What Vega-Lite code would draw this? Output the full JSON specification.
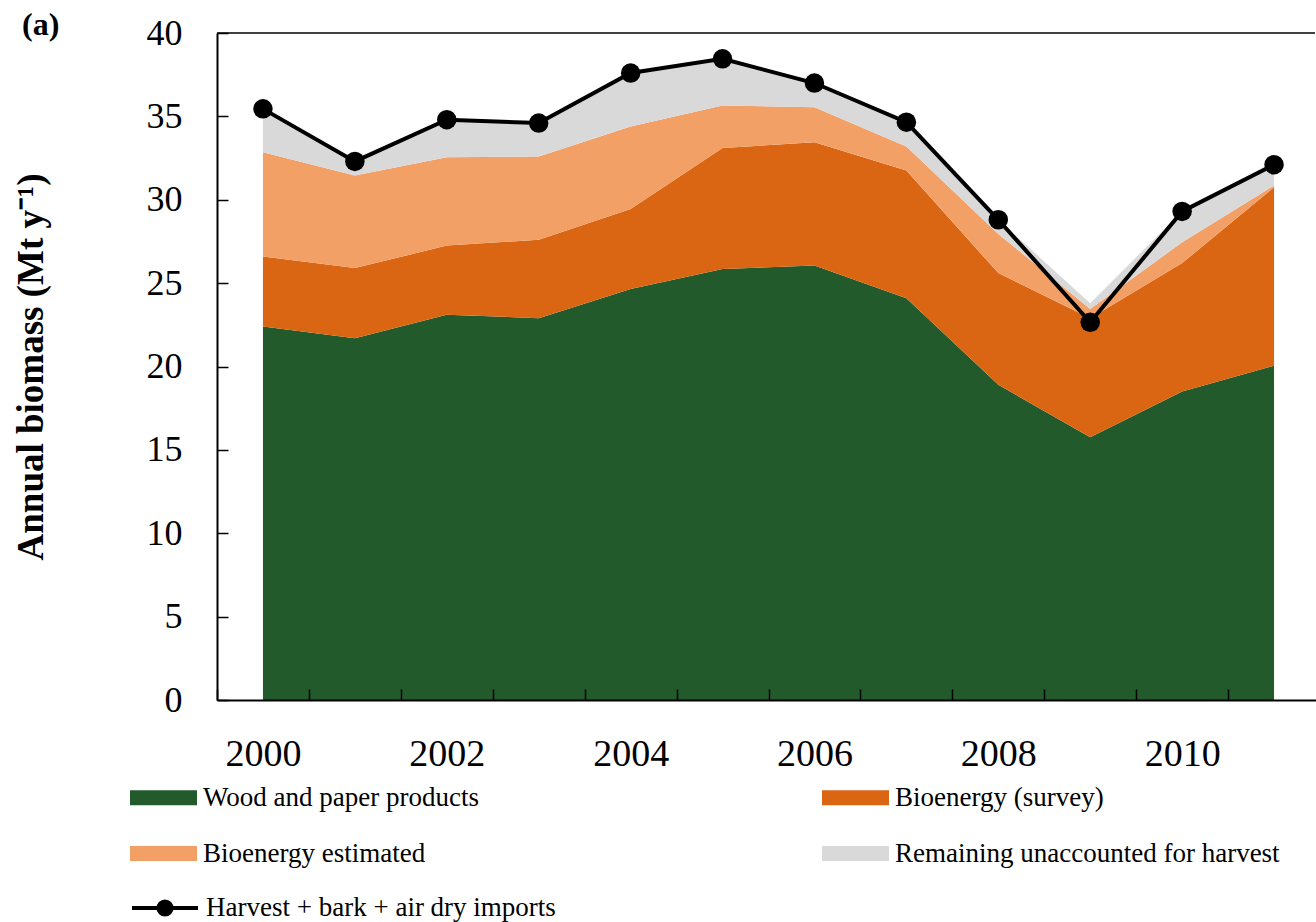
{
  "$schema": "https://vega.github.io/schema/vega-lite/v6.json",
  "autosize": {"type": "none"},
  "padding": {"left": 217, "top": 33, "right": 1, "bottom": 222},
  "width": 1098,
  "height": 667,
  "title": {
    "text": "(a)",
    "anchor": "start",
    "frame": "group",
    "dx": -195,
    "dy": 31,
    "font": "Liberation Serif",
    "fontSize": 32,
    "fontWeight": "bold",
    "color": "black"
  },
  "config": {
    "view": {"stroke": null},
    "axis": {
      "grid": false,
      "domainColor": "black",
      "domainWidth": 2,
      "tickColor": "black",
      "tickWidth": 1.5,
      "labelFont": "Liberation Serif",
      "labelColor": "black",
      "titleFont": "Liberation Serif",
      "titleColor": "black"
    },
    "legend": {
      "labelFont": "Liberation Serif",
      "labelFontSize": 27,
      "labelColor": "black",
      "labelLimit": 600
    }
  },
  "datasets": {
    "parts": [
      {"year": 2000, "category": "Wood and paper products", "rank": 1, "value": 22.4},
      {"year": 2001, "category": "Wood and paper products", "rank": 1, "value": 21.7},
      {"year": 2002, "category": "Wood and paper products", "rank": 1, "value": 23.1},
      {"year": 2003, "category": "Wood and paper products", "rank": 1, "value": 22.9},
      {"year": 2004, "category": "Wood and paper products", "rank": 1, "value": 24.65},
      {"year": 2005, "category": "Wood and paper products", "rank": 1, "value": 25.85},
      {"year": 2006, "category": "Wood and paper products", "rank": 1, "value": 26.05},
      {"year": 2007, "category": "Wood and paper products", "rank": 1, "value": 24.1},
      {"year": 2008, "category": "Wood and paper products", "rank": 1, "value": 18.9},
      {"year": 2009, "category": "Wood and paper products", "rank": 1, "value": 15.75},
      {"year": 2010, "category": "Wood and paper products", "rank": 1, "value": 18.5},
      {"year": 2011, "category": "Wood and paper products", "rank": 1, "value": 20.05},
      {"year": 2000, "category": "Bioenergy (survey)", "rank": 2, "value": 4.2},
      {"year": 2001, "category": "Bioenergy (survey)", "rank": 2, "value": 4.2},
      {"year": 2002, "category": "Bioenergy (survey)", "rank": 2, "value": 4.15},
      {"year": 2003, "category": "Bioenergy (survey)", "rank": 2, "value": 4.7},
      {"year": 2004, "category": "Bioenergy (survey)", "rank": 2, "value": 4.8},
      {"year": 2005, "category": "Bioenergy (survey)", "rank": 2, "value": 7.25},
      {"year": 2006, "category": "Bioenergy (survey)", "rank": 2, "value": 7.4},
      {"year": 2007, "category": "Bioenergy (survey)", "rank": 2, "value": 7.65},
      {"year": 2008, "category": "Bioenergy (survey)", "rank": 2, "value": 6.7},
      {"year": 2009, "category": "Bioenergy (survey)", "rank": 2, "value": 7.15},
      {"year": 2010, "category": "Bioenergy (survey)", "rank": 2, "value": 7.7},
      {"year": 2011, "category": "Bioenergy (survey)", "rank": 2, "value": 10.7},
      {"year": 2000, "category": "Bioenergy estimated", "rank": 3, "value": 6.25},
      {"year": 2001, "category": "Bioenergy estimated", "rank": 3, "value": 5.55},
      {"year": 2002, "category": "Bioenergy estimated", "rank": 3, "value": 5.3},
      {"year": 2003, "category": "Bioenergy estimated", "rank": 3, "value": 5.0},
      {"year": 2004, "category": "Bioenergy estimated", "rank": 3, "value": 4.95},
      {"year": 2005, "category": "Bioenergy estimated", "rank": 3, "value": 2.55},
      {"year": 2006, "category": "Bioenergy estimated", "rank": 3, "value": 2.1},
      {"year": 2007, "category": "Bioenergy estimated", "rank": 3, "value": 1.45},
      {"year": 2008, "category": "Bioenergy estimated", "rank": 3, "value": 2.35},
      {"year": 2009, "category": "Bioenergy estimated", "rank": 3, "value": 0.55},
      {"year": 2010, "category": "Bioenergy estimated", "rank": 3, "value": 1.25},
      {"year": 2011, "category": "Bioenergy estimated", "rank": 3, "value": 0.1},
      {"year": 2000, "category": "Remaining unaccounted for harvest", "rank": 4, "value": 2.6},
      {"year": 2001, "category": "Remaining unaccounted for harvest", "rank": 4, "value": 0.85},
      {"year": 2002, "category": "Remaining unaccounted for harvest", "rank": 4, "value": 2.25},
      {"year": 2003, "category": "Remaining unaccounted for harvest", "rank": 4, "value": 2.0},
      {"year": 2004, "category": "Remaining unaccounted for harvest", "rank": 4, "value": 3.2},
      {"year": 2005, "category": "Remaining unaccounted for harvest", "rank": 4, "value": 2.8},
      {"year": 2006, "category": "Remaining unaccounted for harvest", "rank": 4, "value": 1.45},
      {"year": 2007, "category": "Remaining unaccounted for harvest", "rank": 4, "value": 1.45},
      {"year": 2008, "category": "Remaining unaccounted for harvest", "rank": 4, "value": 0.85},
      {"year": 2009, "category": "Remaining unaccounted for harvest", "rank": 4, "value": 0.35},
      {"year": 2010, "category": "Remaining unaccounted for harvest", "rank": 4, "value": 1.85},
      {"year": 2011, "category": "Remaining unaccounted for harvest", "rank": 4, "value": 1.25}
    ],
    "totals": [
      {"year": 2000, "total": 35.45},
      {"year": 2001, "total": 32.3},
      {"year": 2002, "total": 34.8},
      {"year": 2003, "total": 34.6},
      {"year": 2004, "total": 37.6},
      {"year": 2005, "total": 38.45},
      {"year": 2006, "total": 37.0},
      {"year": 2007, "total": 34.65},
      {"year": 2008, "total": 28.8},
      {"year": 2009, "total": 22.65},
      {"year": 2010, "total": 29.3},
      {"year": 2011, "total": 32.1}
    ]
  },
  "encoding": {
    "x": {
      "field": "year",
      "type": "ordinal",
      "bandPosition": 0.5,
      "scale": {"type": "band", "paddingInner": 0, "paddingOuter": 0, "range": [0, 1103]},
      "axis": {
        "title": null,
        "zindex": 1,
        "tickBand": "extent",
        "tickSize": -11,
        "labelPadding": 46,
        "labelAngle": 0,
        "labelFontSize": 38,
        "labelExpr": "toNumber(datum.value) % 2 == 0 ? datum.label : ''"
      }
    }
  },
  "layer": [
    {
      "data": {"name": "parts"},
      "mark": {"type": "area", "line": false},
      "encoding": {
        "y": {
          "field": "value",
          "type": "quantitative",
          "stack": "zero",
          "scale": {"domain": [0, 40], "nice": false},
          "axis": {
            "title": "Annual biomass (Mt y⁻¹)",
            "titleFontSize": 37,
            "titleFontWeight": "bold",
            "titlePadding": 96,
            "zindex": 1,
            "values": [0, 5, 10, 15, 20, 25, 30, 35, 40],
            "tickSize": -11,
            "labelPadding": 46,
            "labelFontSize": 36
          }
        },
        "order": {"field": "rank", "type": "quantitative"},
        "fill": {
          "field": "category",
          "type": "nominal",
          "scale": {
            "domain": ["Wood and paper products", "Bioenergy estimated", "Bioenergy (survey)", "Remaining unaccounted for harvest"],
            "range": ["#225A2B", "#F2A066", "#DA6513", "#D9D9D9"]
          },
          "legend": {
            "title": null,
            "orient": "none",
            "legendX": -87,
            "legendY": 731,
            "columns": 2,
            "columnPadding": 343,
            "rowPadding": 9,
            "symbolType": "M-1,-0.224H1V0.224H-1Z",
            "symbolSize": 4489,
            "symbolStrokeWidth": 0,
            "symbolOpacity": 1,
            "labelOffset": 6
          }
        }
      }
    },
    {
      "data": {"name": "totals"},
      "mark": {"type": "line", "strokeWidth": 4},
      "encoding": {
        "y": {"field": "total", "type": "quantitative"},
        "stroke": {
          "datum": "Harvest + bark + air dry imports",
          "type": "nominal",
          "scale": {"range": ["black"]},
          "legend": {
            "title": null,
            "orient": "none",
            "legendX": -87,
            "legendY": 840,
            "symbolType": "M-1,0H1M-0.2,0A0.2,0.2,0,1,0,0.2,0A0.2,0.2,0,1,0,-0.2,0",
            "symbolSize": 4356,
            "symbolStrokeWidth": 4,
            "symbolFillColor": "black",
            "labelOffset": 6
          }
        }
      }
    },
    {
      "data": {"name": "totals"},
      "mark": {"type": "circle", "size": 380, "color": "black", "opacity": 1},
      "encoding": {
        "y": {"field": "total", "type": "quantitative"}
      }
    },
    {
      "data": {"values": [{"top": 40}]},
      "mark": {"type": "rule", "color": "black", "strokeWidth": 1.5},
      "encoding": {
        "x": null,
        "y": {"field": "top", "type": "quantitative"}
      }
    }
  ]
}
